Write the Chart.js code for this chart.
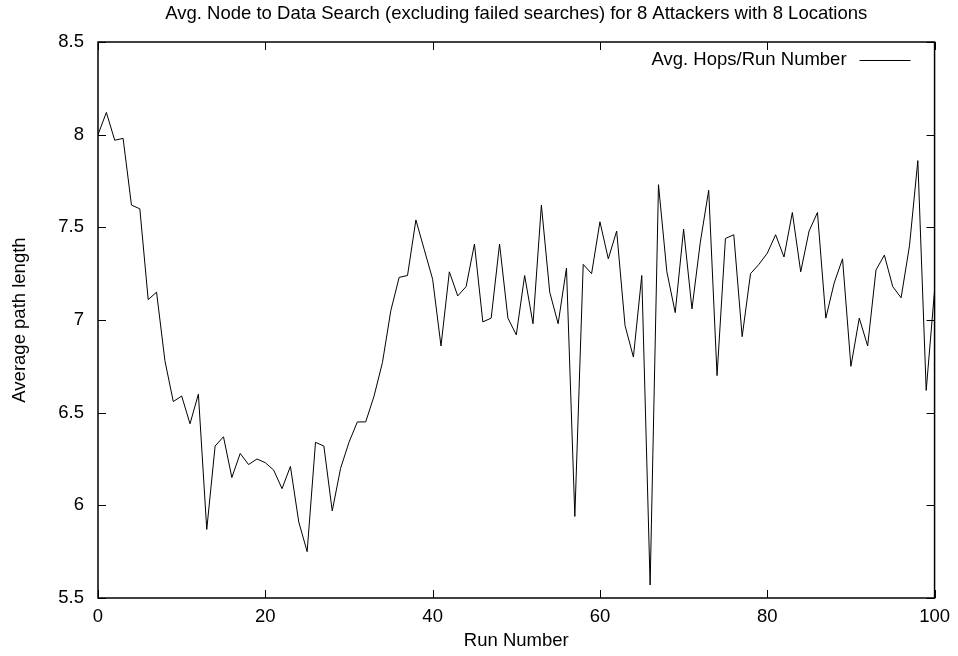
<!DOCTYPE html>
<html>
<head>
<meta charset="utf-8">
<script src="https://cdn.jsdelivr.net/npm/chart.js@4/dist/chart.umd.min.js"></script>
<style>
  html, body { margin: 0; padding: 0; background: #fff; }
  #wrap { width: 958px; height: 656px; }
</style>
</head>
<body>
<div id="wrap"><canvas id="chart"></canvas></div>
<script>
// data
const runNumbers = Array.from({ length: 101 }, (_, i) => i);
const avgHops = [
  8.00, 8.12, 7.97, 7.98, 7.62, 7.60, 7.11, 7.15, 6.78, 6.56,
  6.59, 6.44, 6.60, 5.87, 6.32, 6.37, 6.15, 6.28, 6.22, 6.25,
  6.23, 6.19, 6.09, 6.21, 5.91, 5.75, 6.34, 6.32, 5.97, 6.20,
  6.34, 6.45, 6.45, 6.59, 6.77, 7.05, 7.23, 7.24, 7.54, 7.38,
  7.22, 6.86, 7.26, 7.13, 7.18, 7.41, 6.99, 7.01, 7.41, 7.01,
  6.92, 7.24, 6.98, 7.62, 7.15, 6.98, 7.28, 5.94, 7.30, 7.25,
  7.53, 7.33, 7.48, 6.97, 6.80, 7.24, 5.57, 7.73, 7.26, 7.04,
  7.49, 7.06, 7.42, 7.70, 6.70, 7.44, 7.46, 6.91, 7.25, 7.30,
  7.36, 7.46, 7.34, 7.58, 7.26, 7.48, 7.58, 7.01, 7.20, 7.33,
  6.75, 7.01, 6.86, 7.27, 7.35, 7.18, 7.12, 7.40, 7.86, 6.62,
  7.16
];
const xTicks = [0, 20, 40, 60, 80, 100];
const yTicks = [5.5, 6, 6.5, 7, 7.5, 8, 8.5];

const chartTitle = "Avg. Node to Data Search (excluding failed searches) for 8 Attackers with 8 Locations";
const seriesLabel = "Avg. Hops/Run Number";
const xTitle = "Run Number";
const yTitle = "Average path length";

const FONT = "'Liberation Sans', Arial, Helvetica, sans-serif";
const FS = 18.5;

// gnuplot style frame with inward ticks on all four sides
const framePlugin = {
  id: "frame",
  afterDatasetsDraw(chart) {
    const { ctx, chartArea: a, scales } = chart;
    const len = 8;
    ctx.save();
    ctx.strokeStyle = "#000";
    ctx.lineWidth = 1;
    ctx.beginPath();
    xTicks.forEach(v => {
      const x = Math.round(scales.x.getPixelForValue(v)) + 0.5;
      ctx.moveTo(x, a.bottom); ctx.lineTo(x, a.bottom - len);
      ctx.moveTo(x, a.top); ctx.lineTo(x, a.top + len);
    });
    yTicks.forEach(v => {
      const y = Math.round(scales.y.getPixelForValue(v)) + 0.5;
      ctx.moveTo(a.left, y); ctx.lineTo(a.left + len, y);
      ctx.moveTo(a.right, y); ctx.lineTo(a.right - len, y);
    });
    ctx.stroke();
    ctx.lineWidth = 1.5;
    ctx.strokeRect(a.left, a.top, a.right - a.left, a.bottom - a.top);
    ctx.restore();
  }
};

// legend: label then line sample, top right inside the plot
const keyPlugin = {
  id: "key",
  afterDraw(chart) {
    const { ctx, chartArea: a } = chart;
    const y = a.top + 18;
    const lineEnd = a.right - 24;
    const lineStart = lineEnd - 51;
    ctx.save();
    ctx.font = FS + "px " + FONT;
    ctx.fillStyle = "#000";
    ctx.textAlign = "right";
    ctx.textBaseline = "middle";
    ctx.fillText(chart.data.datasets[0].label, lineStart - 13, y);
    ctx.strokeStyle = "#000";
    ctx.lineWidth = 1;
    ctx.beginPath();
    ctx.moveTo(lineStart, y + 0.5);
    ctx.lineTo(lineEnd, y + 0.5);
    ctx.stroke();
    ctx.restore();
  }
};

new Chart(document.getElementById("chart"), {
  type: "line",
  data: {
    labels: runNumbers,
    datasets: [{
      label: seriesLabel,
      data: runNumbers.map((x, i) => ({ x: x, y: avgHops[i] })),
      borderColor: "#000",
      borderWidth: 1,
      pointRadius: 0,
      tension: 0,
      fill: false
    }]
  },
  options: {
    responsive: true,
    maintainAspectRatio: false,
    animation: false,
    layout: { padding: { left: 0, right: 21, top: 0, bottom: 0 } },
    plugins: {
      legend: { display: false },
      tooltip: { enabled: false },
      title: {
        display: true,
        fullSize: false,
        text: chartTitle,
        color: "#000",
        font: { family: FONT, size: FS, weight: "normal" },
        padding: { top: 3, bottom: 16.8 }
      }
    },
    scales: {
      x: {
        type: "linear",
        min: 0,
        max: 100,
        grid: { display: false, drawTicks: false },
        border: { display: false },
        afterBuildTicks: s => { s.ticks = xTicks.map(v => ({ value: v })); },
        afterFit: s => { s.height = 58; },
        ticks: {
          color: "#000",
          padding: 8,
          maxRotation: 0,
          font: { family: FONT, size: FS },
          callback: v => String(v)
        },
        title: {
          display: true,
          text: xTitle,
          color: "#000",
          font: { family: FONT, size: FS },
          padding: { top: 0, bottom: 4 }
        }
      },
      y: {
        min: 5.5,
        max: 8.5,
        grid: { display: false, drawTicks: false },
        border: { display: false },
        afterBuildTicks: s => { s.ticks = yTicks.map(v => ({ value: v })); },
        afterFit: s => { s.width = 98; },
        ticks: {
          color: "#000",
          padding: 14,
          font: { family: FONT, size: FS },
          callback: v => String(v)
        },
        title: {
          display: true,
          text: yTitle,
          color: "#000",
          font: { family: FONT, size: FS },
          padding: { top: 9, bottom: 0 }
        }
      }
    }
  },
  plugins: [framePlugin, keyPlugin]
});
</script>
</body>
</html>
